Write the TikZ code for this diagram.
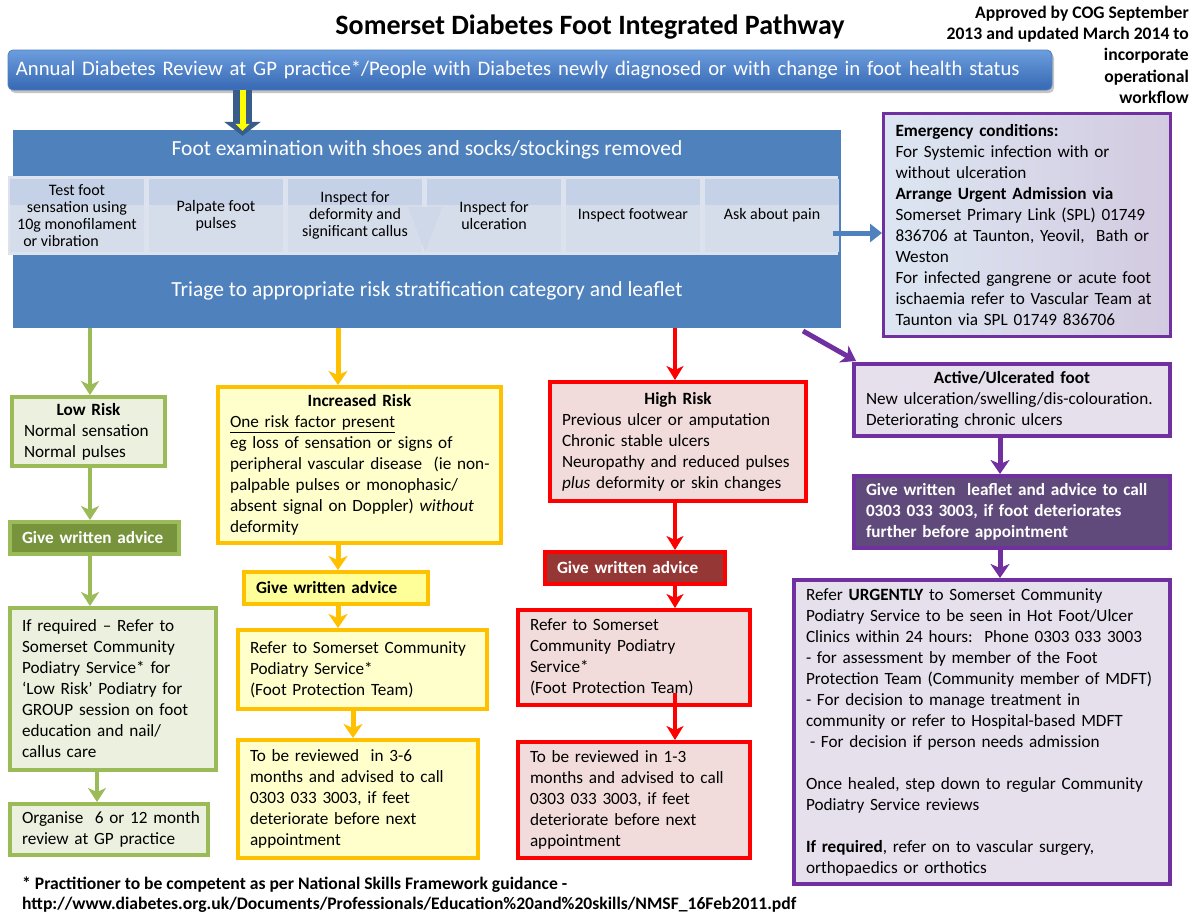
\documentclass[tikz,border=0pt]{standalone}
\usepackage{fontspec}
\setmainfont{Carlito}
\usetikzlibrary{arrows.meta,shadows,calc}
\definecolor{fblue}{HTML}{4F81BD}
\definecolor{navyb}{HTML}{385D8A}
\definecolor{bantop}{HTML}{6C9DDD}
\definecolor{banbot}{HTML}{3668B4}
\definecolor{stripbg}{HTML}{DCE2EE}
\definecolor{celllo}{HTML}{D6DDEA}
\definecolor{cellhi}{HTML}{C5D1E6}
\definecolor{gline}{HTML}{9BBB59}
\definecolor{gfill}{HTML}{EBF1DE}
\definecolor{gdark}{HTML}{77933C}
\definecolor{yline}{HTML}{FFC000}
\definecolor{yfill}{HTML}{FFFFCC}
\definecolor{ygive}{HTML}{FFFF99}
\definecolor{rline}{HTML}{FF0000}
\definecolor{rfill}{HTML}{F2DCDB}
\definecolor{rdark}{HTML}{953735}
\definecolor{pline}{HTML}{7030A0}
\definecolor{pfill}{HTML}{E5E0EC}
\definecolor{pdark}{HTML}{604A7B}
\definecolor{emleft}{HTML}{DCE6F2}
\definecolor{emright}{HTML}{D3CAE0}
\definecolor{ayellow}{HTML}{FFFF00}
\newcommand\fbody{\fontsize{17.2}{21}\selectfont}
\newcommand\fcell{\fontsize{16}{17}\selectfont}
\newcommand\fbig{\fontsize{21.5}{24}\selectfont}
\newcommand\fnote{\fontsize{17.6}{21.2}\selectfont\bfseries}
\newcommand\rs{\rightskip=0pt plus 1fil minus 40pt\relax}
\begin{document}
\begin{tikzpicture}[x=1pt,y=-1pt,
  bx/.style={draw, line width=4pt, inner xsep=12pt, inner ysep=2pt, font=\fbody, align=left},
  gb/.style={bx, draw=gline, fill=gfill},
  gg/.style={bx, draw=gline, fill=gdark, text=white, font=\fbody\bfseries},
  yb/.style={bx, draw=yline, fill=yfill},
  yg/.style={bx, draw=yline, fill=ygive, font=\fbody\bfseries},
  rb/.style={bx, draw=rline, fill=rfill},
  rg/.style={bx, draw=rline, fill=rdark, text=white, font=\fbody\bfseries},
  pb/.style={bx, draw=pline, fill=pfill},
  pg/.style={bx, draw=pline, fill=pdark, text=white, font=\fbody\bfseries},
  cell/.style={fill=celllo, minimum width=134pt, minimum height=73pt, align=center, font=\fcell, inner sep=1pt,
     path picture={\fill[cellhi] (path picture bounding box.north west) rectangle ([yshift=-26pt]path picture bounding box.north east);}},
  ga/.style={gline, line width=4.5pt, -{Stealth[length=14pt,width=18pt,inset=4pt]}},
  ya/.style={yline, line width=5pt, -{Stealth[length=14pt,width=19pt,inset=4pt]}},
  ra/.style={rline, line width=4pt, -{Stealth[length=14pt,width=17pt,inset=4pt]}},
  pa/.style={pline, line width=5pt, -{Stealth[length=14pt,width=19pt,inset=4pt]}},
  wt/.style={text=white, font=\fbig, inner sep=0pt}
]
\useasboundingbox[fill=white] (0,0) rectangle (1197,914);

% title and note
\node[font=\fontsize{28}{31}\selectfont\bfseries] (title) at (590,27) {Somerset Diabetes Foot Integrated Pathway};
\node[font=\fnote, align=right, anchor=north east, inner sep=0pt] (note) at (1189,6)
  {Approved by COG September\\2013 and updated March 2014 to\\incorporate\\operational\\workflow};

% banner
\node[rounded corners=5pt, top color=bantop, bottom color=banbot, draw=fblue, line width=0.8pt,
      drop shadow={opacity=0.45, shadow xshift=2pt, shadow yshift=-3pt},
      minimum width=1044pt, minimum height=40pt, text width=1028pt, inner xsep=8pt, align=left,
      text=white, font=\fontsize{20.7}{23}\selectfont] (ban) at (530,70)
  {\rs Annual Diabetes Review at GP practice*/People with Diabetes newly diagnosed or with change in foot health status};

% foot examination block
\node[fill=fblue, minimum width=828pt, minimum height=198pt, inner sep=0pt] (foot) at (427,229) {};
\node[fill=stripbg, minimum width=830pt, minimum height=79pt, inner sep=0pt] (strip) at (423,215.5) {};
\node[wt] (fh) at (427,150) {Foot examination with shoes and socks/stockings removed};
\node[wt] (tr) at (427,291) {Triage to appropriate risk stratification category and leaflet};
\foreach \i/\t in {0/{Test foot\\sensation using\\10g monofilament\\\hspace*{-32pt}or vibration},
                   1/{Palpate foot\\pulses},
                   2/{Inspect for\\deformity and\\significant callus},
                   3/{Inspect for\\ulceration},
                   4/{Inspect footwear},
                   5/{Ask about pain}}
  \node[cell] (c\i) at ({77+139*\i},215.5) {\t};
\fill[cellhi!40!celllo] (c2.east |- 0,207) -- ++(-14,0) -- ([xshift=3pt]c2.south east) -- ([xshift=20pt]c2.east |- 0,207) -- cycle;

% arrow from banner
\coordinate (ax) at (242.5,0);
\draw[navyb, line width=19pt, -{Triangle[length=14pt,width=36pt]}] (ban.south -| ax) -- ($(foot.north -| ax)+(0,6)$);
\draw[ayellow, line width=6pt, -{Triangle[length=7pt,width=14pt]}] (ban.south -| ax) -- ($(foot.north -| ax)+(0,1)$);

% emergency box
\node[draw=pline, line width=3pt, left color=emleft, right color=emright, inner xsep=12pt, inner ysep=2pt,
      font=\fbody, align=left, minimum width=287pt, minimum height=223pt, text width=263pt] (em) at (1027,225)
  {\rs\textbf{Emergency conditions:}\\
   For Systemic infection with or\\
   without ulceration\\
   \textbf{Arrange Urgent Admission via}\\
   Somerset Primary Link (SPL) 01749\\
   836706 at Taunton, Yeovil,\ \ Bath or\\
   Weston\\
   For infected gangrene or acute foot\\
   ischaemia refer to Vascular Team at\\
   Taunton via SPL 01749 836706};
\coordinate (es) at (833,233);
\draw[fblue, line width=5pt, -{Triangle[length=12pt,width=18pt]}] (es) -- (es -| em.west);

% green column
\node[gb, minimum width=153pt, minimum height=69pt, text width=129pt] (LR) at (88.5,431.5)
  {\rs\makebox[\linewidth]{\textbf{Low Risk}}\\Normal sensation\\Normal pulses};
\node[gg, minimum width=169pt, minimum height=32pt, text width=145pt] (GG) at (94.5,538)
  {\rs Give written advice};
\node[gb, minimum width=206pt, minimum height=162pt, text width=182pt] (GR) at (113,689)
  {\rs If required – Refer to\\Somerset Community\\Podiatry Service* for\\‘Low Risk’ Podiatry for\\GROUP session on foot\\education and nail/\\callus care};
\node[gb, minimum width=198pt, minimum height=51pt, text width=174pt] (GO) at (109,829.5)
  {\rs Organise\ \ 6 or 12 month\\review at GP practice};
\coordinate (gx) at (90,0);
\coordinate (gx2) at (97,0);
\draw[ga] (foot.south -| gx) -- (LR.north -| gx);
\draw[ga] (LR.south -| gx) -- (GG.north -| gx);
\draw[ga] (GG.south -| gx) -- (GR.north -| gx);
\draw[ga] (GR.south -| gx2) -- (GO.north -| gx2);

% yellow column
\node[yb, minimum width=283pt, minimum height=156pt, text width=259pt] (Inc) at (359.5,465)
  {\rs\makebox[\linewidth]{\textbf{Increased Risk}}\\
   \underline{One risk factor present}\\
   eg loss of sensation or signs of\\
   peripheral vascular disease\ \ (ie non-\\
   palpable pulses or monophasic/\\
   absent signal on Doppler) \textit{without}\\
   deformity};
\node[yg, minimum width=184pt, minimum height=32pt, text width=160pt] (YG) at (336,588)
  {\rs Give written advice};
\node[yb, minimum width=249pt, minimum height=79pt, text width=225pt] (YR) at (362.5,669.5)
  {\rs Refer to Somerset Community\\Podiatry Service*\\(Foot Protection Team)};
\node[yb, minimum width=240pt, minimum height=118pt, text width=216pt] (YV) at (358,799)
  {\rs To be reviewed\ \ in 3-6\\months and advised to call\\0303 033 3003, if feet\\deteriorate before next\\appointment};
\coordinate (yx) at (338,0);
\coordinate (yx2) at (353,0);
\draw[ya] (foot.south -| yx) -- (Inc.north -| yx);
\draw[ya] (Inc.south -| yx) -- (YG.north -| yx);
\draw[ya] (YG.south -| yx) -- (YR.north -| yx);
\draw[ya] (YR.south -| yx2) -- (YV.north -| yx2);

% red column
\node[rb, minimum width=256pt, minimum height=119pt, text width=232pt] (Hi) at (678,441.5)
  {\rs\makebox[\linewidth]{\textbf{High Risk}}\\
   Previous ulcer or amputation\\
   Chronic stable ulcers\\
   Neuropathy and reduced pulses\\
   \textit{plus} deformity or skin changes};
\node[rg, minimum width=180pt, minimum height=32pt, text width=156pt] (RG) at (635,568)
  {\rs Give written advice};
\node[rb, minimum width=232pt, minimum height=95pt, text width=208pt] (RR) at (634,657.5)
  {\rs Refer to Somerset\\Community Podiatry\\Service*\\(Foot Protection Team)};
\node[rb, minimum width=232pt, minimum height=116pt, text width=208pt] (RV) at (634,800)
  {\rs To be reviewed in 1-3\\months and advised to call\\0303 033 3003, if feet\\deteriorate before next\\appointment};
\coordinate (rx) at (675,0);
\draw[ra] (foot.south -| rx) -- (Hi.north -| rx);
\draw[ra] (Hi.south -| rx) -- (RG.north -| rx);
\draw[ra] (RG.south -| rx) -- (RR.north -| rx);
\draw[ra] ($(RR.south -| rx)+(0,-14)$) -- (RV.north -| rx);

% purple column
\node[pb, minimum width=316pt, minimum height=72pt, text width=292pt] (Act) at (1012,400)
  {\rs\makebox[\linewidth]{\textbf{Active/Ulcerated foot}}\\
   New ulceration/swelling/dis-colouration.\\
   Deteriorating chronic ulcers};
\node[pg, minimum width=316pt, minimum height=72pt, text width=292pt] (PG) at (1012,512)
  {\rs Give written\ \ leaflet and advice to call\\0303 033 3003, if foot deteriorates\\further before appointment};
\node[pb, minimum width=376pt, minimum height=304pt, text width=352pt] (PR) at (982,732)
  {\rs Refer \textbf{URGENTLY} to Somerset Community\\
   Podiatry Service to be seen in Hot Foot/Ulcer\\
   Clinics within 24 hours:\ \ Phone 0303 033 3003\\
   - for assessment by member of the Foot\\
   Protection Team (Community member of MDFT)\\
   - For decision to manage treatment in\\
   community or refer to Hospital-based MDFT\\
   \hspace*{4pt}- For decision if person needs admission\\
   \mbox{}\\
   Once healed, step down to regular Community\\
   Podiatry Service reviews\\
   \mbox{}\\
   \textbf{If required}, refer on to vascular surgery,\\
   orthopaedics or orthotics};
\coordinate (ps) at (803,331);
\coordinate (px) at (1000,0);
\draw[pa] (ps) -- ($(Act.north west)+(4,-1)$);
\draw[pa] (Act.south -| px) -- (PG.north -| px);
\draw[pa] (PG.south -| px) -- (PR.north -| px);

% footnote
\node[font=\fontsize{17.6}{20}\selectfont\bfseries, align=left, anchor=north west, inner sep=0pt] (fn) at (22,877)
  {* Practitioner to be competent as per National Skills Framework guidance -\\
   http://www.diabetes.org.uk/Documents/Professionals/Education\%20and\%20skills/NMSF\_16Feb2011.pdf};
\end{tikzpicture}
\end{document}
